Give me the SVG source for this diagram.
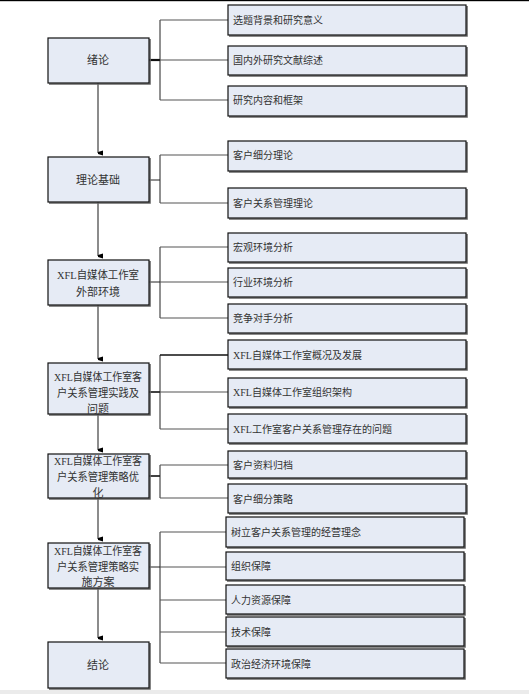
<svg xmlns="http://www.w3.org/2000/svg" width="529" height="694" viewBox="0 0 529 694">
<style>
.box{fill:#e6ebf5;stroke:#111;stroke-width:1.2}
.sh{fill:none;stroke:#666;stroke-width:1.6}
.lt{font-family:"Liberation Serif","Noto Sans CJK SC",serif;font-size:11px;fill:#333;text-anchor:middle}
.rt{font-family:"Liberation Serif","Noto Sans CJK SC",serif;font-size:10px;fill:#333}
.v{stroke:#666;stroke-width:1.5;fill:none}
.br{stroke:#222;stroke-width:1;fill:none}
.bh{stroke:#555;stroke-width:1.2;fill:none}
</style>
<defs>
<marker id="ah" markerWidth="6" markerHeight="6" refX="3" refY="5" orient="auto" markerUnits="userSpaceOnUse">
<path d="M0.5,0 L5.5,0 L4,5 L2,5 Z" fill="#000"/>
</marker>
</defs>
<rect x="0" y="0" width="529" height="694" fill="#fff"/>
<rect x="0" y="0" width="529" height="1.2" fill="#000"/>
<rect x="0" y="690" width="529" height="4" fill="#ebebeb"/>
<g id="connectors">
<path class="v" d="M98,83 V153" marker-end="url(#ah)"/>
<path class="v" d="M98,202 V256" marker-end="url(#ah)"/>
<path class="v" d="M98,305 V359" marker-end="url(#ah)"/>
<path class="v" d="M98,414 V450" marker-end="url(#ah)"/>
<path class="v" d="M98,498 V539" marker-end="url(#ah)"/>
<path class="v" d="M98,588 V638" marker-end="url(#ah)"/>
<path d="M149,60 H160" stroke="#111" stroke-width="2.2"/>
<path class="br" d="M160,20 V100"/>
<path class="bh" d="M160,20 H228 M160,60 H228 M160,100 H228"/>
<path class="br" d="M149,180 H160 M160,155 V203"/>
<path class="bh" d="M160,155 H228 M160,203 H228"/>
<path class="br" d="M149,282 H160 M160,247 V318"/>
<path class="bh" d="M160,247 H228 M160,282 H228 M160,318 H228"/>
<path d="M149,392 H160" stroke="#111" stroke-width="1.6"/>
<path class="br" d="M160,355 V429"/>
<path d="M160,355 H228" stroke="#111" stroke-width="1.6"/>
<path class="bh" d="M160,392 H228 M160,429 H228"/>
<path d="M149,476 H160" stroke="#111" stroke-width="1.6"/>
<path class="br" d="M160,465 V498"/>
<path class="bh" d="M160,465 H228 M160,498 H228"/>
<path class="br" d="M149,567 H160 M160,532 V663"/>
<path class="bh" d="M160,532 H226 M160,567 H226 M160,600 H226 M160,632 H226 M160,663 H226"/>
</g>
<g id="n1"><path class="sh" d="M150,39 V84 H49"/><rect class="box" x="48" y="38" width="101" height="45"/><text class="lt" x="98" y="64">绪论</text></g>
<g id="n2"><path class="sh" d="M150,158 V203 H49"/><rect class="box" x="48" y="157" width="101" height="45"/><text class="lt" x="98" y="184">理论基础</text></g>
<g id="n3"><path class="sh" d="M150,261 V306 H49"/><rect class="box" x="48" y="260" width="101" height="45"/><text class="lt" x="98" y="279" textLength="82" lengthAdjust="spacingAndGlyphs">XFL自媒体工作室</text><text class="lt" x="98" y="296">外部环境</text></g>
<g id="n4"><path class="sh" d="M150,364 V415 H49"/><rect class="box" x="48" y="363" width="101" height="51"/><text class="lt" x="98" y="381" textLength="88" lengthAdjust="spacingAndGlyphs">XFL自媒体工作室客</text><text class="lt" x="98" y="397" textLength="82" lengthAdjust="spacingAndGlyphs">户关系管理实践及</text><text class="lt" x="98" y="413">问题</text></g>
<g id="n5"><path class="sh" d="M150,455 V499 H49"/><rect class="box" x="48" y="454" width="101" height="44"/><text class="lt" x="98" y="465" textLength="88" lengthAdjust="spacingAndGlyphs">XFL自媒体工作室客</text><text class="lt" x="98" y="481" textLength="82" lengthAdjust="spacingAndGlyphs">户关系管理策略优</text><text class="lt" x="98" y="497">化</text></g>
<g id="n6"><path class="sh" d="M150,544 V589 H49"/><rect class="box" x="48" y="543" width="101" height="45"/><text class="lt" x="98" y="555" textLength="88" lengthAdjust="spacingAndGlyphs">XFL自媒体工作室客</text><text class="lt" x="98" y="571" textLength="82" lengthAdjust="spacingAndGlyphs">户关系管理策略实</text><text class="lt" x="98" y="586">施方案</text></g>
<g id="n7"><path class="sh" d="M150,643 V689 H49"/><rect class="box" x="48" y="642" width="101" height="46"/><text class="lt" x="98" y="669">结论</text></g>
<g id="r1"><path class="sh" d="M467,6 V36 H229"/><rect class="box" x="228" y="5" width="238" height="30"/><text class="rt" x="233" y="24">选题背景和研究意义</text></g>
<g id="r2"><path class="sh" d="M467,47 V76 H229"/><rect class="box" x="228" y="46" width="238" height="29"/><text class="rt" x="233" y="64">国内外研究文献综述</text></g>
<g id="r3"><path class="sh" d="M467,87 V117 H229"/><rect class="box" x="228" y="86" width="238" height="30"/><text class="rt" x="233" y="104">研究内容和框架</text></g>
<g id="r4"><path class="sh" d="M467,142 V172 H229"/><rect class="box" x="228" y="141" width="238" height="30"/><text class="rt" x="233" y="159">客户细分理论</text></g>
<g id="r5"><path class="sh" d="M467,189 V219 H229"/><rect class="box" x="228" y="188" width="238" height="30"/><text class="rt" x="233" y="207">客户关系管理理论</text></g>
<g id="r6"><path class="sh" d="M467,234 V263 H229"/><rect class="box" x="228" y="233" width="238" height="29"/><text class="rt" x="233" y="251">宏观环境分析</text></g>
<g id="r7"><path class="sh" d="M467,269 V298 H229"/><rect class="box" x="228" y="268" width="238" height="29"/><text class="rt" x="233" y="286">行业环境分析</text></g>
<g id="r8"><path class="sh" d="M467,305 V334 H229"/><rect class="box" x="228" y="304" width="238" height="29"/><text class="rt" x="233" y="322">竞争对手分析</text></g>
<g id="r9"><path class="sh" d="M467,341 V370 H229"/><rect class="box" x="228" y="340" width="238" height="29"/><text class="rt" x="233" y="359">XFL自媒体工作室概况及发展</text></g>
<g id="r10"><path class="sh" d="M467,379 V408 H229"/><rect class="box" x="228" y="378" width="238" height="29"/><text class="rt" x="233" y="396">XFL自媒体工作室组织架构</text></g>
<g id="r11"><path class="sh" d="M467,415 V444 H229"/><rect class="box" x="228" y="414" width="238" height="29"/><text class="rt" x="233" y="433">XFL工作室客户关系管理存在的问题</text></g>
<g id="r12"><path class="sh" d="M467,452 V479 H229"/><rect class="box" x="228" y="451" width="238" height="27"/><text class="rt" x="233" y="469">客户资料归档</text></g>
<g id="r13"><path class="sh" d="M467,485 V514 H229"/><rect class="box" x="228" y="484" width="238" height="29"/><text class="rt" x="233" y="503">客户细分策略</text></g>
<g id="r14"><path class="sh" d="M465,518 V548 H227"/><rect class="box" x="226" y="517" width="238" height="30"/><text class="rt" x="231" y="536">树立客户关系管理的经营理念</text></g>
<g id="r15"><path class="sh" d="M465,553 V581 H227"/><rect class="box" x="226" y="552" width="238" height="28"/><text class="rt" x="231" y="570">组织保障</text></g>
<g id="r16"><path class="sh" d="M465,586 V615 H227"/><rect class="box" x="226" y="585" width="238" height="29"/><text class="rt" x="231" y="604">人力资源保障</text></g>
<g id="r17"><path class="sh" d="M465,618 V647 H227"/><rect class="box" x="226" y="617" width="238" height="29"/><text class="rt" x="231" y="636">技术保障</text></g>
<g id="r18"><path class="sh" d="M465,650 V679 H227"/><rect class="box" x="226" y="649" width="238" height="29"/><text class="rt" x="231" y="668">政治经济环境保障</text></g>
</svg>
